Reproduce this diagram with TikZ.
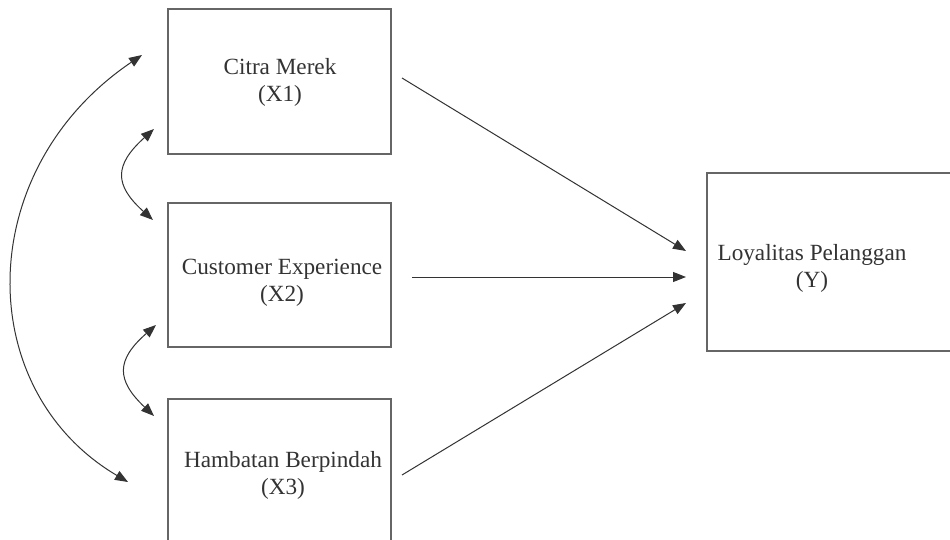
\documentclass[tikz,border=0pt]{standalone}
\usepackage{fontspec}
\setmainfont{Liberation Serif}
\usetikzlibrary{arrows.meta}
\definecolor{ink}{HTML}{333333}
\definecolor{boxline}{HTML}{666666}
\tikzset{
  varbox/.style={draw=boxline, line width=1.3pt},
  lbl/.style={text=ink, font=\fontsize{23.2}{27}\selectfont, align=center, inner sep=0pt},
  conn/.style={draw=ink, line width=1pt, -{Triangle[length=13pt,width=10pt]}},
  corr/.style={draw=ink, line width=1pt, {Triangle[length=13pt,width=10pt]}-{Triangle[length=13pt,width=10pt]}}
}
\begin{document}
\begin{tikzpicture}[x=1pt,y=-1pt]
\useasboundingbox (0,0) rectangle (950,540);
\fill[white] (0,0) rectangle (950,540);
\clip (0,0) rectangle (950,540);
% boxes
\path[varbox] (168,9) rectangle (391,154);
\path[varbox] (168,203) rectangle (391,347);
\path[varbox] (168,399) rectangle (391,560);
\path[varbox] (707,173) rectangle (970,351);
% labels
\node[lbl] (x1) at (280,82) {Citra Merek\\(X1)};
\node[lbl] (x2) at (282,283) {Customer Experience\\(X2)};
\node[lbl] (x3) at (283,475) {Hambatan Berpindah\\(X3)};
\node[lbl] (y) at (812,268) {Loyalitas Pelanggan\\(Y)};
% connector ends
\coordinate (x1out) at (402,78);
\coordinate (x2out) at (412,277);
\coordinate (x3out) at (402,475);
\coordinate (yin1) at (686,251);
\coordinate (yin2) at (686,277);
\coordinate (yin3) at (686,303);
\coordinate (c1top) at (142,55);
\coordinate (c3bot) at (128,482);
\coordinate (a1) at (154,129);
\coordinate (a2) at (153,220);
\coordinate (b2) at (156,325);
\coordinate (b3) at (154,416);
% paths
\draw[conn] (x1out) -- (yin1);
\draw[conn] (x2out) -- (yin2);
\draw[conn] (x3out) -- (yin3);
\draw[corr] (c1top) .. controls (-28,170) and (-28,390) .. (c3bot);
\draw[corr] (a1) .. controls (114,165) and (114,185) .. (a2);
\draw[corr] (b2) .. controls (116,360) and (116,380) .. (b3);
\end{tikzpicture}
\end{document}
